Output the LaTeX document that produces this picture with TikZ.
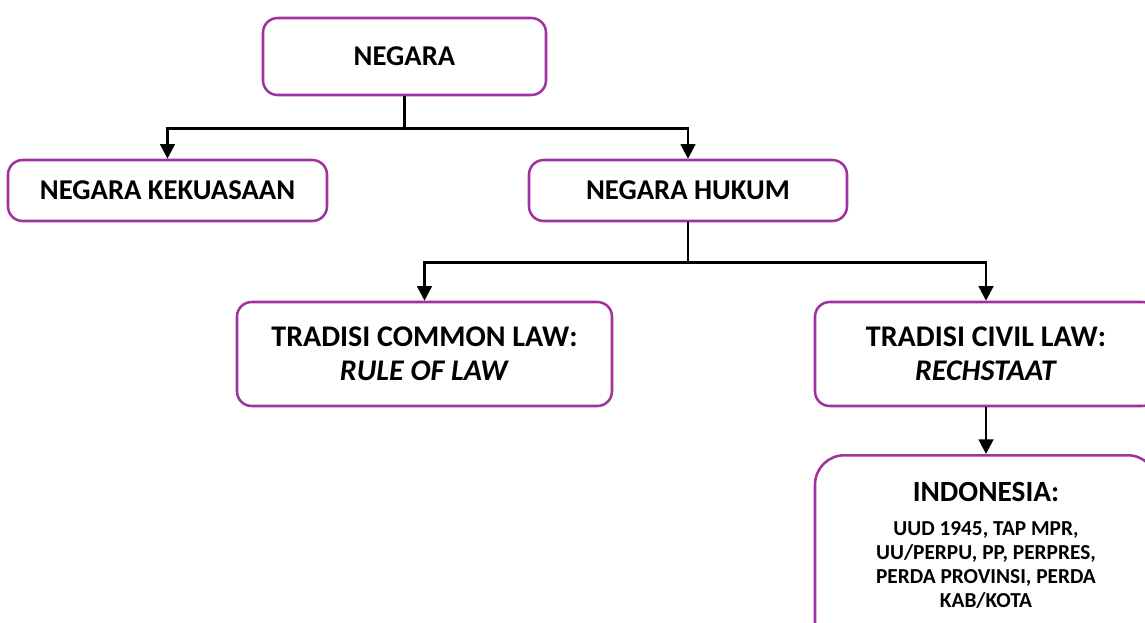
\documentclass[tikz,border=0pt]{standalone}
\usepackage{fontspec}
\setmainfont{Carlito}
\usetikzlibrary{arrows.meta,positioning}
\definecolor{boxpurple}{RGB}{160,50,160}
\tikzset{
  box/.style={draw=boxpurple, line width=1.9pt, rounded corners=11pt, fill=white,
    align=center, inner sep=0pt, font=\bfseries},
  conn/.style={draw=black, line width=2pt, -{Triangle[width=11pt,length=11pt]}},
  big/.style={font=\fontsize{21.5pt}{25pt}\selectfont\bfseries},
  mid/.style={font=\fontsize{22.5pt}{25.5pt}\selectfont\bfseries},
  plain/.style={align=center, inner sep=0pt},
}
\begin{document}
\begin{tikzpicture}[x=0.75pt,y=-0.75pt]
\useasboundingbox (0,0) rectangle (1145,622);
\node[box,big,minimum width=283*0.75pt,minimum height=77*0.75pt] (negara) at (404.5,56.5) {NEGARA};
\node[box,big,minimum width=319*0.75pt,minimum height=61*0.75pt] (kek) at (167.5,190.5) {NEGARA KEKUASAAN};
\node[box,big,minimum width=318*0.75pt,minimum height=61*0.75pt] (hukum) at (688,190.5) {NEGARA HUKUM};
\node[box,mid,minimum width=375*0.75pt,minimum height=104*0.75pt] (common) at (424.5,354) {TRADISI COMMON LAW:\\\textit{RULE OF LAW}};
\node[box,mid,minimum width=342*0.75pt,minimum height=104*0.75pt] (civil) at (986,354) {TRADISI CIVIL LAW:\\\textit{RECHSTAAT}};
\node[box,rounded corners=22pt,minimum width=342*0.75pt,minimum height=210*0.75pt,anchor=north] (indo) at (986,454) {};
\node[plain,anchor=base,font=\fontsize{22pt}{24pt}\selectfont\bfseries] (indotitle) at (986,501) {INDONESIA:};
\node[plain,anchor=north,font=\fontsize{16pt}{18pt}\selectfont\bfseries] (indobody) at (986,521) {UUD 1945, TAP MPR,\\UU/PERPU, PP, PERPRES,\\PERDA PROVINSI, PERDA\\KAB/KOTA};
\draw[conn] (negara.south) -- ++(0,32) -| (kek.north);
\draw[conn] (negara.south) -- ++(0,32) -| (hukum.north);
\draw[conn] (hukum.south) -- ++(0,40) -| (common.north);
\draw[conn] (hukum.south) -- ++(0,40) -| (civil.north);
\draw[conn] (civil.south) -- (indo.north);
\end{tikzpicture}
\end{document}
